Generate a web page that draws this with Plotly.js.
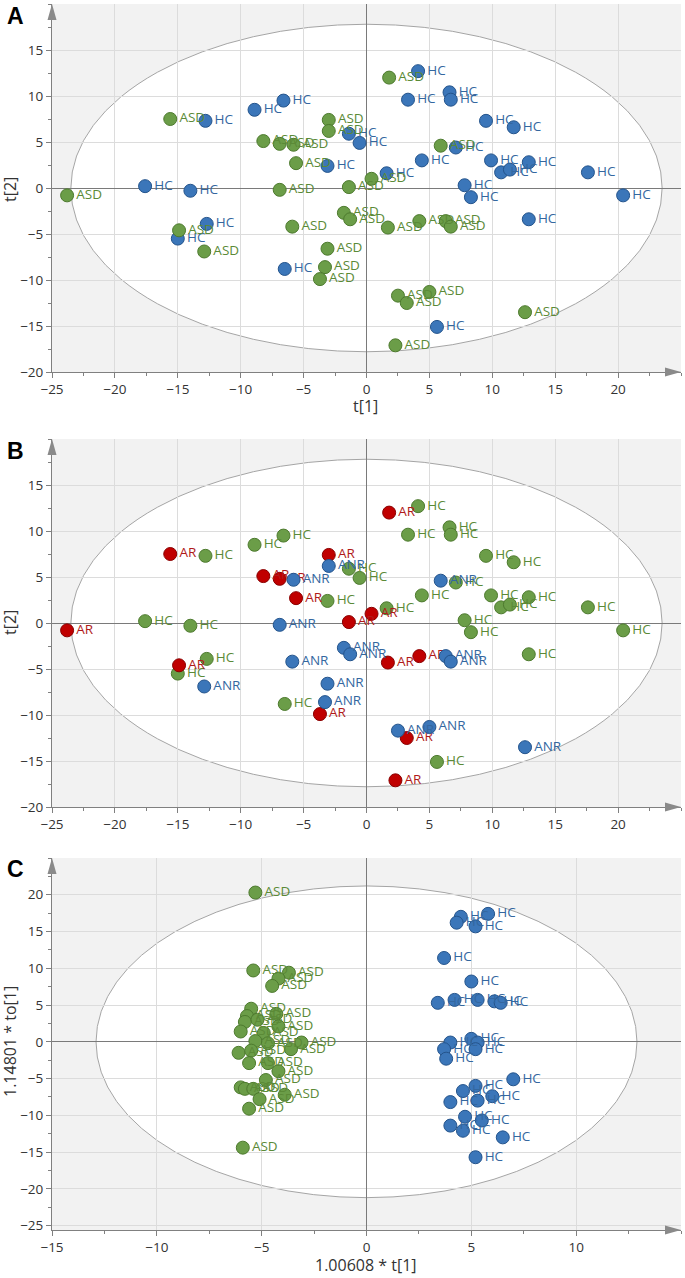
<!DOCTYPE html>
<html><head><meta charset="utf-8">
<script src="https://cdn.plot.ly/plotly-3.0.1.min.js"></script>
<style>html,body{margin:0;padding:0;background:#fff}#chart{width:685px;height:1278px}</style>
</head><body><div id="chart"></div>
<script>
// ---------- Panels A and B: PCA scores t[1], t[2] ----------
const hc_t1 = [-12.8,-8.9,-6.6,-3.1,-17.6,-14.0,4.1,6.6,6.7,3.3,9.5,11.7,-1.4,-0.55,7.1,4.4,9.9,12.9,10.7,11.4,17.6,1.6,7.8,8.3,20.4,-12.7,-15.0,-6.5,12.9,5.6];
const hc_t2 = [7.3,8.5,9.5,2.4,0.2,-0.3,12.7,10.4,9.6,9.6,7.3,6.6,5.9,4.9,4.4,3.0,3.0,2.8,1.7,2.0,1.7,1.6,0.3,-1.0,-0.8,-3.9,-5.5,-8.8,-3.4,-15.1];
const asd_t1 = [-23.8,-15.6,-8.2,-6.9,-5.8,-5.6,-3.0,-3.0,-6.9,1.8,5.9,0.4,-1.4,-14.9,-12.9,-5.9,-3.1,-3.3,-3.7,-1.8,-1.3,1.7,4.2,6.3,6.7,2.5,3.2,5.0,12.6,2.3];
const asd_t2 = [-0.8,7.5,5.1,4.8,4.7,2.7,7.4,6.2,-0.2,12.0,4.6,1.0,0.1,-4.6,-6.9,-4.2,-6.6,-8.6,-9.9,-2.7,-3.4,-4.3,-3.6,-3.6,-4.2,-11.7,-12.5,-11.3,-13.5,-17.1];
// response group of each ASD sample (panel B)
const asd_group = ['AR','AR','AR','AR','ANR','AR','AR','ANR','ANR','AR','ANR','AR','AR','AR','ANR','ANR','ANR','ANR','AR','ANR','ANR','AR','AR','ANR','ANR','ANR','AR','ANR','ANR','AR'];
// Hotelling ellipse semi-axes (A, B)
const ellAB = {a: 23.5, b: 17.8};

// ---------- Panel C: OPLS-DA scores ----------
const asdC_t = [-5.3,-5.4,-3.7,-4.2,-4.5,-5.5,-5.7,-5.8,-5.2,-4.3,-4.2,-6.0,-4.9,-5.3,-4.7,-3.6,-3.1,-6.1,-5.5,-5.6,-4.7,-4.2,-4.8,-6.0,-5.8,-5.4,-3.9,-5.1,-5.6,-5.9];
const asdC_to = [20.3,9.7,9.4,8.6,7.6,4.5,3.5,2.7,3.0,3.8,2.1,1.4,1.2,0.1,-0.2,-1.0,-0.1,-1.5,-1.2,-2.9,-2.9,-4.0,-5.2,-6.2,-6.4,-6.4,-7.2,-7.8,-9.1,-14.4];
const hcC_t = [4.5,4.3,5.2,5.8,3.7,5.0,3.4,4.2,5.3,6.1,6.4,5.0,5.3,4.0,3.7,5.2,3.8,7.0,5.2,4.6,6.0,4.0,5.3,4.7,5.5,4.0,4.6,6.5,5.2];
const hcC_to = [17.0,16.2,15.7,17.4,11.4,8.2,5.3,5.7,5.7,5.5,5.3,0.4,-0.1,-0.1,-1.0,-1.0,-2.3,-5.1,-6.0,-6.7,-7.4,-8.2,-8.0,-10.2,-10.7,-11.4,-12.1,-13.0,-15.7];
const ellC = {a: 12.9, b: 21.2};

// tick labels
const ticksAB_x = [-25,-20,-15,-10,-5,0,5,10,15,20];
const ticksAB_y = [-20,-15,-10,-5,0,5,10,15];
const ticksC_x = [-15,-10,-5,0,5,10];
const ticksC_y = [-25,-20,-15,-10,-5,0,5,10,15,20];

// ---------- styles ----------
const W = 685, H = 1278;
const FONT = 'Open Sans, Noto Sans, sans-serif';
const sty = {
  green: {fill:'#6b9d48', line:'#4d7a2e', text:'#5b8a37'},
  blue:  {fill:'#3b76b9', line:'#24548c', text:'#34679f'},
  red:   {fill:'#c00000', line:'#8a0000', text:'#b01a1a'}
};
function sc(x, y, label, s, xa, ya) {
  return {type:'scatter', mode:'markers+text', x:x, y:y, text:x.map(()=>label),
    textposition:'middle right', cliponaxis:false, hoverinfo:'skip',
    textfont:{family:FONT, size:13.5, color:s.text},
    marker:{size:13, color:s.fill, line:{color:s.line, width:1}},
    xaxis:xa, yaxis:ya, showlegend:false};
}
const pick = (arr, g) => arr.filter((v,i)=>asd_group[i]===g);

const traces = [
  sc(hc_t1, hc_t2, 'HC', sty.blue, 'x', 'y'),
  sc(asd_t1, asd_t2, 'ASD', sty.green, 'x', 'y'),
  sc(hc_t1, hc_t2, 'HC', sty.green, 'x2', 'y2'),
  sc(pick(asd_t1,'AR'), pick(asd_t2,'AR'), 'AR', sty.red, 'x2', 'y2'),
  sc(pick(asd_t1,'ANR'), pick(asd_t2,'ANR'), 'ANR', sty.blue, 'x2', 'y2'),
  sc(asdC_t, asdC_to, 'ASD', sty.green, 'x3', 'y3'),
  sc(hcC_t, hcC_to, 'HC', sty.blue, 'x3', 'y3')
];

// pixel layout of panels
const L = 52, R = 681;
const P = [{top:4, bottom:372}, {top:439, bottom:807}, {top:858, bottom:1230}];
const dx = [L/W, R/W];
const dy = p => [1 - p.bottom/H, 1 - p.top/H];

function axis(domain, range, vals, anchor) {
  return {domain:domain, range:range, tickmode:'array', tickvals:vals,
    ticks:'outside', ticklen:5, tickcolor:'#808080', tickwidth:1,
    showline:true, linecolor:'#808080', linewidth:1,
    showgrid:true, gridcolor:'#dcdcdc', gridwidth:1,
    zeroline:true, zerolinecolor:'#7a7a7a', zerolinewidth:1,
    tickfont:{family:FONT, size:13.5, color:'#333'},
    minor:{tickmode:'linear', tick0:0, dtick:2.5, ticks:'outside', ticklen:3, tickcolor:'#808080', showgrid:false},
    anchor:anchor, fixedrange:true, automargin:false};
}

const shapes = [];
function ell(xr, yr, e) {
  shapes.push({type:'circle', xref:xr, yref:yr, x0:-e.a, x1:e.a, y0:-e.b, y1:e.b,
    fillcolor:'#ffffff', line:{color:'#a5a5a5', width:1}, layer:'below'});
}
ell('x','y',ellAB); ell('x2','y2',ellAB); ell('x3','y3',ellC);
// axis arrow heads
const X = p => p/W, Y = p => 1 - p/H;
P.forEach(p => {
  shapes.push({type:'path', xref:'paper', yref:'paper', layer:'above',
    path:`M ${X(L)} ${Y(p.top)} L ${X(L-4.5)} ${Y(p.top+16)} L ${X(L+4.5)} ${Y(p.top+16)} Z`,
    fillcolor:'#8a8a8a', line:{width:0}});
  shapes.push({type:'path', xref:'paper', yref:'paper', layer:'above',
    path:`M ${X(R)} ${Y(p.bottom)} L ${X(R-16)} ${Y(p.bottom-4.5)} L ${X(R-16)} ${Y(p.bottom+4.5)} Z`,
    fillcolor:'#8a8a8a', line:{width:0}});
});

const ann = [];
function txt(t, x, y, size, angle, bold) {
  ann.push({text: bold ? '<b>'+t+'</b>' : t, xref:'paper', yref:'paper', x:X(x), y:Y(y),
    xanchor:'center', yanchor:'middle', showarrow:false, textangle:angle||0,
    font:{family: bold ? 'Liberation Sans, Arial, sans-serif' : FONT, size:size, color: bold ? '#000' : '#333'}});
}
txt('A', 15, 16, 23, 0, true);
txt('B', 15, 451, 23, 0, true);
txt('C', 15, 869, 23, 0, true);
txt('t[2]', 10, 190, 16, -90);
txt('t[1]', 366, 406, 16, 0);
txt('t[2]', 10, 623, 16, -90);
txt('1.14801 * to[1]', 10, 1042, 16, -90);
txt('1.00608 * t[1]', 366, 1265, 16, 0);

const layout = {
  width:W, height:H, margin:{l:0, r:0, t:0, b:0},
  paper_bgcolor:'#ffffff', plot_bgcolor:'#f2f2f2',
  xaxis: axis(dx, [-25, 25], ticksAB_x, 'y'),
  yaxis: axis(dy(P[0]), [-20, 20], ticksAB_y, 'x'),
  xaxis2: axis(dx, [-25, 25], ticksAB_x, 'y2'),
  yaxis2: axis(dy(P[1]), [-20, 20], ticksAB_y, 'x2'),
  xaxis3: axis(dx, [-15, 15], ticksC_x, 'y3'),
  yaxis3: axis(dy(P[2]), [-25.6, 25], ticksC_y, 'x3'),
  shapes: shapes, annotations: ann, showlegend:false, hovermode:false
};
Plotly.newPlot('chart', traces, layout, {displayModeBar:false, staticPlot:true});
</script></body></html>
